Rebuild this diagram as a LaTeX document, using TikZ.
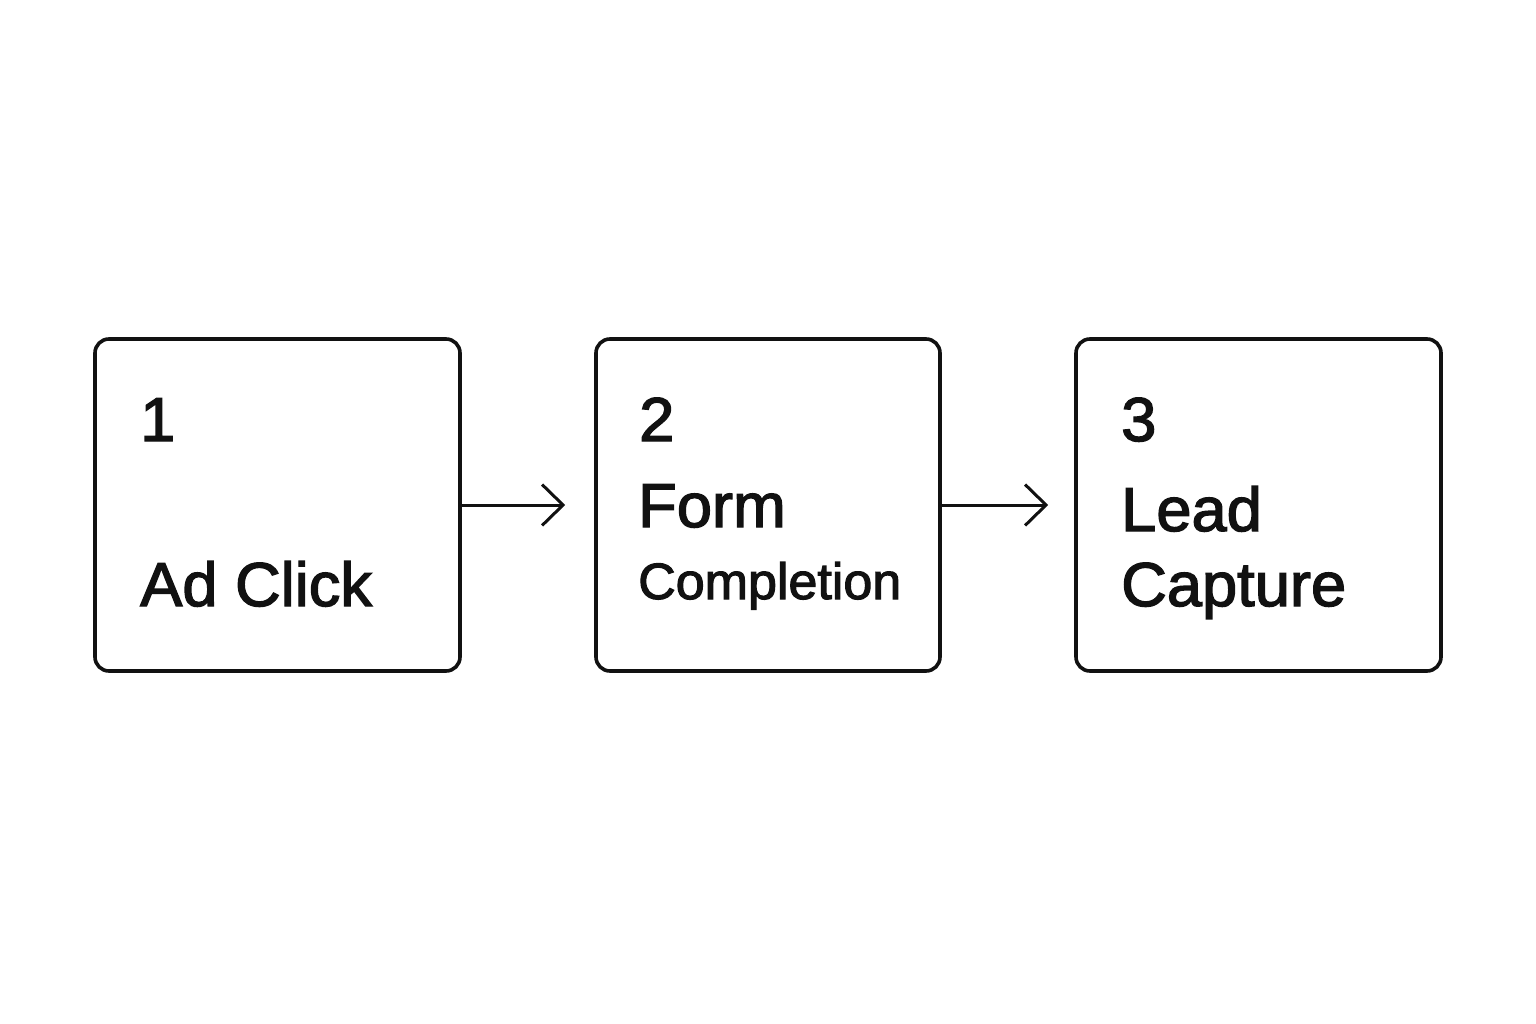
\documentclass[tikz,border=0pt]{standalone}
\usepackage{fontspec}
\setmainfont{Liberation Sans}
\newfontfamily\medfont[FakeBold=2.2,FakeStretch=1.02]{Liberation Sans}
\usetikzlibrary{arrows.meta}
\definecolor{ink}{HTML}{111111}
\tikzset{
  stepbox/.style={draw=ink, line width=3.6pt, rounded corners=14pt, minimum height=332pt, inner sep=0pt},
  big/.style={anchor=base west, inner sep=0pt, text=ink, font=\medfont\fontsize{62}{62}\selectfont},
  small/.style={anchor=base west, inner sep=0pt, text=ink, font=\medfont\fontsize{51}{51}\selectfont},
  flow/.style={draw=ink, line width=3pt, -{Straight Barb[length=21pt,width=41pt]}}
}
\begin{document}
\begin{tikzpicture}[x=1pt,y=-1pt]
\useasboundingbox[fill=white] (0,0) rectangle (1536,1024);
\node[stepbox, minimum width=365pt] (b1) at (277.5,505) {};
\node[stepbox, minimum width=344pt] (b2) at (768,505) {};
\node[stepbox, minimum width=365pt] (b3) at (1258.5,505) {};
\node[big] (n1) at (140,441) {1};
\node[big] (t1) at (140,606) {Ad Click};
\node[big] (n2) at (639,441) {2};
\node[big] (t2a) at (638,527) {Form};
\node[small] (t2b) at (638,599) {Completion};
\node[big] (n3) at (1121,441) {3};
\node[big] (t3a) at (1121,531) {Lead};
\node[big] (t3b) at (1121,606) {Capture};
\draw[flow, shorten >=29pt] (b1.east) -- (b2.west);
\draw[flow, shorten >=26pt] (b2.east) -- (b3.west);
\end{tikzpicture}
\end{document}
